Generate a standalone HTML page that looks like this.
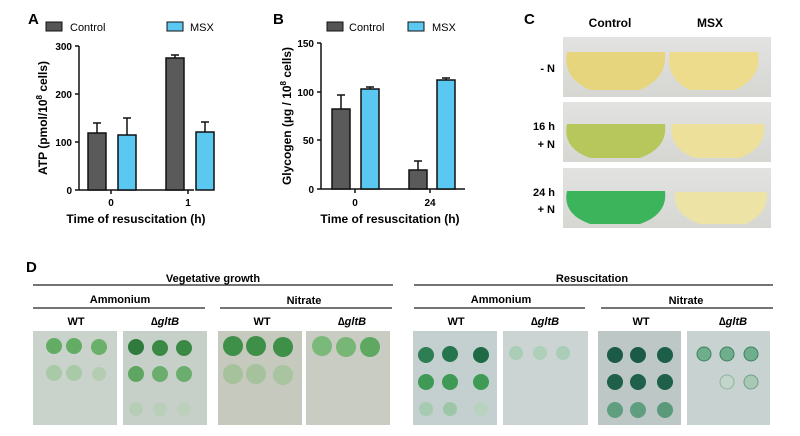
<!DOCTYPE html>
<html><head><style>
body{margin:0;background:#fff;width:800px;height:431px;overflow:hidden;font-family:"Liberation Sans",sans-serif}
</style></head><body>
<svg width="800" height="431" xmlns="http://www.w3.org/2000/svg" font-family="Liberation Sans, sans-serif" font-weight="bold">
<defs>
<linearGradient id="bg" x1="0" y1="0" x2="0" y2="1"><stop offset="0" stop-color="#e2e3e0"/><stop offset="1" stop-color="#d6d7d3"/></linearGradient>
</defs>
<!-- Panel A -->
<text x="28" y="24" font-size="15">A</text>
<rect x="46" y="22" width="16" height="9" fill="#555" stroke="#111"/>
<text x="70" y="31" font-size="11" font-weight="normal">Control</text>
<rect x="167" y="22" width="16" height="9" fill="#5bc8f2" stroke="#111"/>
<text x="190" y="31" font-size="11" font-weight="normal">MSX</text>
<g stroke="#111" stroke-width="1.5" fill="none">
<line x1="79" y1="46" x2="79" y2="190"/><line x1="79" y1="190" x2="194" y2="190"/>
<line x1="75" y1="46" x2="79" y2="46"/><line x1="75" y1="94" x2="79" y2="94"/><line x1="75" y1="142" x2="79" y2="142"/><line x1="75" y1="190" x2="79" y2="190"/>
<line x1="111" y1="190" x2="111" y2="194"/><line x1="188" y1="190" x2="188" y2="194"/>
</g>
<g stroke="#111" stroke-width="1.5">
<rect x="88" y="133" width="18" height="57" fill="#5a5a5a"/>
<rect x="118" y="135" width="18" height="55" fill="#5bc8f2"/>
<rect x="166" y="58" width="18" height="132" fill="#5a5a5a"/>
<rect x="196" y="132" width="18" height="58" fill="#5bc8f2"/>
<path d="M97 133V123M93 123H101M127 135V118M123 118H131M175 58V55M171 55H179M205 132V122M201 122H209" fill="none"/>
</g>
<g font-size="10" text-anchor="end"><text x="72" y="50">300</text><text x="72" y="98">200</text><text x="72" y="146">100</text><text x="72" y="194">0</text></g>
<g font-size="10" text-anchor="middle"><text x="111" y="206">0</text><text x="188" y="206">1</text></g>
<text x="136" y="223" font-size="12" text-anchor="middle">Time of resuscitation (h)</text>
<text transform="translate(47,118) rotate(-90)" font-size="12" text-anchor="middle">ATP (pmol/10<tspan font-size="8" dy="-5">8</tspan><tspan dy="5"> cells)</tspan></text>
<!-- Panel B -->
<text x="273" y="24" font-size="15">B</text>
<rect x="327" y="22" width="16" height="9" fill="#555" stroke="#111"/>
<text x="349" y="31" font-size="11" font-weight="normal">Control</text>
<rect x="408" y="22" width="16" height="9" fill="#5bc8f2" stroke="#111"/>
<text x="432" y="31" font-size="11" font-weight="normal">MSX</text>
<g stroke="#111" stroke-width="1.5" fill="none">
<line x1="321" y1="43" x2="321" y2="189"/><line x1="321" y1="189" x2="465" y2="189"/>
<line x1="317" y1="43" x2="321" y2="43"/><line x1="317" y1="92" x2="321" y2="92"/><line x1="317" y1="140" x2="321" y2="140"/><line x1="317" y1="189" x2="321" y2="189"/>
<line x1="355" y1="189" x2="355" y2="193"/><line x1="430" y1="189" x2="430" y2="193"/>
</g>
<g stroke="#111" stroke-width="1.5">
<rect x="332" y="109" width="18" height="80" fill="#5a5a5a"/>
<rect x="361" y="89" width="18" height="100" fill="#5bc8f2"/>
<rect x="409" y="170" width="18" height="19" fill="#5a5a5a"/>
<rect x="437" y="80" width="18" height="109" fill="#5bc8f2"/>
<path d="M341 109V95M337 95H345M370 89V87M366 87H374M418 170V161M414 161H422M446 80V78M442 78H450" fill="none"/>
</g>
<g font-size="10" text-anchor="end"><text x="314" y="47">150</text><text x="314" y="96">100</text><text x="314" y="144">50</text><text x="314" y="193">0</text></g>
<g font-size="10" text-anchor="middle"><text x="355" y="206">0</text><text x="430" y="206">24</text></g>
<text x="390" y="223" font-size="12" text-anchor="middle">Time of resuscitation (h)</text>
<text transform="translate(291,116) rotate(-90)" font-size="12" text-anchor="middle">Glycogen (µg / 10<tspan font-size="8" dy="-5">8</tspan><tspan dy="5"> cells)</tspan></text>
<!-- Panel C -->
<text x="524" y="24" font-size="15">C</text>
<text x="610" y="27" font-size="12" text-anchor="middle">Control</text>
<text x="710" y="27" font-size="12" text-anchor="middle">MSX</text>
<g font-size="11" text-anchor="end"><text x="555" y="72">- N</text><text x="555" y="130">16 h</text><text x="555" y="148">+ N</text><text x="555" y="196">24 h</text><text x="555" y="213">+ N</text></g>
<rect x="563" y="37" width="208" height="60" fill="url(#bg)"/>
<rect x="563" y="102" width="208" height="60" fill="url(#bg)"/>
<rect x="563" y="168" width="208" height="60" fill="url(#bg)"/>
<path d="M567 52H665Q668 78 640 90H590Q562 78 567 52Z" fill="#e6d57c"/>
<path d="M670 52H758Q762 78 735 90H690Q665 78 670 52Z" fill="#ecdc8c"/>
<path d="M567 124H665Q668 148 640 158H590Q562 148 567 124Z" fill="#b7c75c"/>
<path d="M672 124H764Q766 148 740 158H695Q668 148 672 124Z" fill="#ede09a"/>
<path d="M567 191H665Q668 214 640 224H590Q562 214 567 191Z" fill="#3cb45c"/>
<path d="M675 192H767Q768 214 745 224H700Q672 214 675 192Z" fill="#ede3a4"/>
<!-- Panel D -->
<text x="26" y="272" font-size="15">D</text>
<g font-size="11" text-anchor="middle">
<text x="213" y="282">Vegetative growth</text><text x="592" y="282">Resuscitation</text>
<text x="120" y="303">Ammonium</text><text x="304" y="304">Nitrate</text>
<text x="501" y="303">Ammonium</text><text x="686" y="304">Nitrate</text>
<text x="76" y="325">WT</text><text x="165" y="325" font-style="italic">∆gltB</text>
<text x="262" y="325">WT</text><text x="352" y="325" font-style="italic">∆gltB</text>
<text x="456" y="325">WT</text><text x="545" y="325" font-style="italic">∆gltB</text>
<text x="641" y="325">WT</text><text x="733" y="325" font-style="italic">∆gltB</text>
</g>
<g stroke="#222" stroke-width="1.3">
<line x1="33" y1="285" x2="393" y2="285"/><line x1="414" y1="285" x2="773" y2="285"/>
<line x1="33" y1="308" x2="205" y2="308"/><line x1="220" y1="308" x2="392" y2="308"/>
<line x1="414" y1="308" x2="585" y2="308"/><line x1="601" y1="308" x2="773" y2="308"/>
</g>
<g>
<rect x="33" y="331" width="84" height="94" fill="#c9d2cb"/>
<rect x="123" y="331" width="84" height="94" fill="#c6d0c9"/>
<rect x="218" y="331" width="84" height="94" fill="#c6c9bd"/>
<rect x="306" y="331" width="84" height="94" fill="#c9ccc2"/>
<rect x="413" y="331" width="84" height="94" fill="#c4d0cf"/>
<rect x="503" y="331" width="85" height="94" fill="#cbd4d3"/>
<rect x="598" y="331" width="83" height="94" fill="#bdc8c6"/>
<rect x="687" y="331" width="83" height="94" fill="#c8d2d1"/>
</g>
<g>
<circle cx="54" cy="346" r="8" fill="#62ad63"/><circle cx="74" cy="346" r="8" fill="#62ad63"/><circle cx="99" cy="347" r="8" fill="#6ab06a"/>
<circle cx="54" cy="373" r="8" fill="#a9c9a8"/><circle cx="74" cy="373" r="8" fill="#a9c9a8"/><circle cx="99" cy="374" r="7" fill="#b4cdb2"/>
<circle cx="136" cy="347" r="8" fill="#2f7a3c"/><circle cx="160" cy="348" r="8" fill="#3a8a45"/><circle cx="184" cy="348" r="8" fill="#3a8a45"/>
<circle cx="136" cy="374" r="8" fill="#5ea562"/><circle cx="160" cy="374" r="8" fill="#6aad6c"/><circle cx="184" cy="374" r="8" fill="#6aad6c"/>
<circle cx="136" cy="409" r="7" fill="#b6cdb6"/><circle cx="160" cy="409" r="7" fill="#b9cfb8"/><circle cx="184" cy="409" r="7" fill="#bcd0bb"/>
<circle cx="233" cy="346" r="10" fill="#3e8f48"/><circle cx="256" cy="346" r="10" fill="#3e8f48"/><circle cx="283" cy="347" r="10" fill="#3e8f48"/>
<circle cx="233" cy="374" r="10" fill="#a5c29d"/><circle cx="256" cy="374" r="10" fill="#a5c29d"/><circle cx="283" cy="375" r="10" fill="#a8c4a0"/>
<circle cx="322" cy="346" r="10" fill="#7ab97a"/><circle cx="346" cy="347" r="10" fill="#78b678"/><circle cx="370" cy="347" r="10" fill="#5ea862"/>
<circle cx="426" cy="355" r="8" fill="#2d7d55"/><circle cx="450" cy="354" r="8" fill="#25754e"/><circle cx="481" cy="355" r="8" fill="#1e6a47"/>
<circle cx="426" cy="382" r="8" fill="#3e9a55"/><circle cx="450" cy="382" r="8" fill="#3e9a55"/><circle cx="481" cy="382" r="8" fill="#3e9a55"/>
<circle cx="426" cy="409" r="7" fill="#a6cbb0"/><circle cx="450" cy="409" r="7" fill="#9cc6a6"/><circle cx="481" cy="409" r="7" fill="#b7d2bd"/>
<circle cx="516" cy="353" r="7" fill="#a9cdb6"/><circle cx="540" cy="353" r="7" fill="#aecfb9"/><circle cx="563" cy="353" r="7" fill="#a9cdb6"/>
<circle cx="615" cy="355" r="8" fill="#1b5a46"/><circle cx="638" cy="355" r="8" fill="#1b5a46"/><circle cx="665" cy="355" r="8" fill="#1d5e49"/>
<circle cx="615" cy="382" r="8" fill="#1e6049"/><circle cx="638" cy="382" r="8" fill="#1e6049"/><circle cx="665" cy="382" r="8" fill="#1e6049"/>
<circle cx="615" cy="410" r="8" fill="#5f9f80"/><circle cx="638" cy="410" r="8" fill="#5f9f80"/><circle cx="665" cy="410" r="8" fill="#5a9a7a"/>
<circle cx="704" cy="354" r="7" fill="#6fae8c" stroke="#3f8060"/><circle cx="727" cy="354" r="7" fill="#6fae8c" stroke="#3f8060"/><circle cx="751" cy="354" r="7" fill="#6fae8c" stroke="#3f8060"/>
<circle cx="727" cy="382" r="7" fill="#c4d6cc" stroke="#8fb3a0"/><circle cx="751" cy="382" r="7" fill="#a9c8b6" stroke="#6fa085"/>
</g>
</svg>
</body></html>
